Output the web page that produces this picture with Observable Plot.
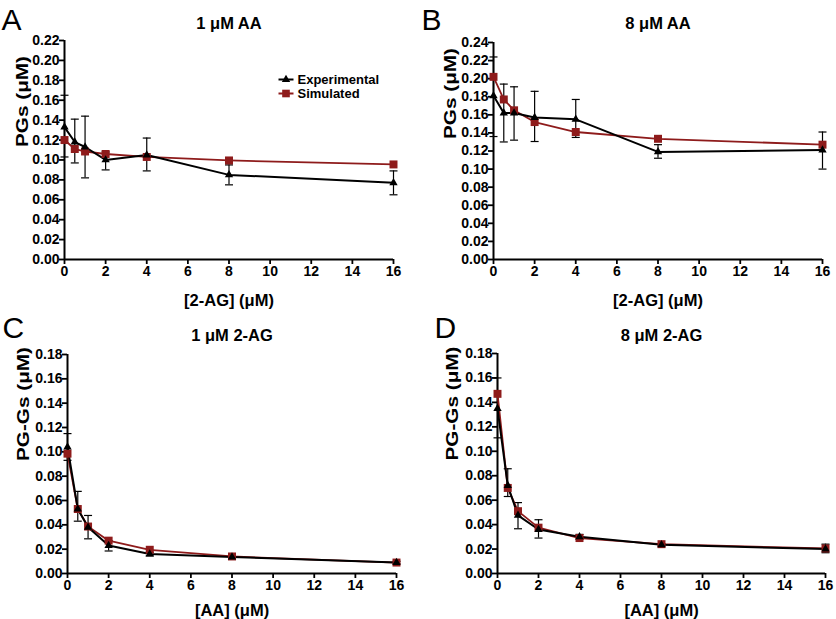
<!DOCTYPE html>
<html>
<head>
<meta charset="utf-8">
<script src="https://cdn.jsdelivr.net/npm/d3@7"></script>
<script src="https://cdn.jsdelivr.net/npm/@observablehq/plot@0.6"></script>
<style>
  html, body { margin: 0; padding: 0; background: #fff; }
  #wrap { position: relative; width: 836px; height: 619px; overflow: hidden; background: #fff; }
  #wrap svg { position: absolute; }
</style>
</head>
<body>
<div id="wrap"></div>
<script>
// ---- data ----
const conc = [0, 0.5, 1, 2, 4, 8, 16];
const xTicks = [0, 2, 4, 6, 8, 10, 12, 14, 16];
const yTicksA = [0, 0.02, 0.04, 0.06, 0.08, 0.10, 0.12, 0.14, 0.16, 0.18, 0.20, 0.22];
const yTicksB = [0, 0.02, 0.04, 0.06, 0.08, 0.10, 0.12, 0.14, 0.16, 0.18, 0.20, 0.22, 0.24];
const yTicksCD = [0, 0.02, 0.04, 0.06, 0.08, 0.10, 0.12, 0.14, 0.16, 0.18];
const seriesNames = ["Experimental", "Simulated"];

// Panel A: 1 µM AA, varying 2-AG
const expA = [0.133, 0.118, 0.113, 0.100, 0.105, 0.085, 0.077];
const expALo = [0.103, 0.097, 0.082, 0.090, 0.089, 0.075, 0.065];
const expAHi = [0.165, 0.141, 0.144, 0.108, 0.122, 0.095, 0.089];
const simA = [0.120, 0.111, 0.1085, 0.106, 0.103, 0.0995, 0.0955];

// Panel B: 8 µM AA, varying 2-AG
const expB = [0.181, 0.162, 0.162, 0.157, 0.155, 0.119, 0.121];
const expBLo = [0.136, 0.130, 0.132, 0.1305, 0.135, 0.112, 0.100];
const expBHi = [0.224, 0.194, 0.191, 0.186, 0.177, 0.127, 0.141];
const simB = [0.202, 0.177, 0.165, 0.152, 0.141, 0.1335, 0.127];

// Panel C: 1 µM 2-AG, varying AA
const expC = [0.104, 0.053, 0.038, 0.023, 0.016, 0.0135, 0.009];
const expCLo = [0.093, 0.043, 0.0285, 0.0185, 0.0145, 0.012, 0.008];
const expCHi = [0.115, 0.0675, 0.0477, 0.027, 0.0175, 0.015, 0.010];
const simC = [0.0985, 0.053, 0.0386, 0.027, 0.0195, 0.014, 0.009];

// Panel D: 8 µM 2-AG, varying AA
const expD = [0.135, 0.072, 0.0475, 0.036, 0.030, 0.0235, 0.020];
const expDLo = [0.111, 0.063, 0.0366, 0.029, 0.028, 0.0225, 0.017];
const expDHi = [0.160, 0.0857, 0.058, 0.044, 0.032, 0.0245, 0.024];
const simD = [0.147, 0.070, 0.051, 0.0375, 0.029, 0.024, 0.0205];

// ---- styling ----
const RED = "#8e1b1b";
const FONT = "'Liberation Sans', Arial, Helvetica, sans-serif";

const capSymbol = { draw(ctx) { ctx.moveTo(-4, 0); ctx.lineTo(4, 0); } };
const legendLine = { draw(ctx) { ctx.moveTo(-7.5, 0); ctx.lineTo(7.5, 0); } };

function panel(cfg) {
  const rows = conc.map((x, i) => ({x, exp: cfg.exp[i], lo: cfg.lo[i], hi: cfg.hi[i], sim: cfg.sim[i]}));
  const m = cfg.margin;
  const marks = [
    // error bars
    Plot.ruleX(rows, {x: "x", y1: "lo", y2: "hi", stroke: "black", strokeWidth: 1.2}),
    Plot.dot(rows, {x: "x", y: "hi", symbol: capSymbol, stroke: "black", strokeWidth: 1.2, fill: "none", r: 4}),
    Plot.dot(rows, {x: "x", y: "lo", symbol: capSymbol, stroke: "black", strokeWidth: 1.2, fill: "none", r: 4}),
    // axes
    Plot.axisX({ticks: xTicks, tickFormat: d => String(d), tickSize: 5, tickPadding: 2, strokeWidth: 1.8, label: null}),
    Plot.axisY({ticks: cfg.yTicks, tickFormat: d3.format(".2f"), tickSize: 5, tickPadding: 0, strokeWidth: 1.8, label: null}),
    Plot.ruleX([0], {stroke: "black", strokeWidth: 2}),
    Plot.ruleY([0], {stroke: "black", strokeWidth: 2}),
    // series
    Plot.line(rows, {x: "x", y: "sim", stroke: RED, strokeWidth: 1.8}),
    Plot.line(rows, {x: "x", y: "exp", stroke: "black", strokeWidth: 2}),
    Plot.dot(rows, {x: "x", y: "sim", symbol: "square", r: 4.5, fill: RED}),
    Plot.dot(rows, {x: "x", y: "exp", symbol: "triangle", r: 3.1, fill: "black"}),
    // texts
    Plot.text([cfg.title], {text: d => d, frameAnchor: "top", dy: cfg.titleDy, lineAnchor: "middle", fontSize: 16.5, fontWeight: "bold"}),
    Plot.text([cfg.letter], {text: d => d, frameAnchor: "top-left", dx: cfg.letterX - m.left, dy: cfg.letterBase - m.top, textAnchor: "start", lineAnchor: "bottom", fontSize: 30, fontWeight: "normal"}),
    Plot.text([cfg.yLabel], {text: d => d, frameAnchor: "left", dx: cfg.yLabelX - m.left, dy: cfg.yLabelDy || 0, rotate: -90, lineAnchor: "middle", fontSize: 17, fontWeight: "bold"}),
    Plot.text([cfg.xLabel], {text: d => d, frameAnchor: "bottom", dy: cfg.xLabelDy, lineAnchor: "middle", fontSize: 16.5, fontWeight: "bold"})
  ];
  if (cfg.legend) {
    const L = cfg.legend;
    marks.push(
      Plot.dot([0], {frameAnchor: "top-left", dx: L.x, dy: L.y, symbol: legendLine, stroke: "black", strokeWidth: 2, r: 1}),
      Plot.dot([0], {frameAnchor: "top-left", dx: L.x, dy: L.y, symbol: "triangle", r: 3.1, fill: "black"}),
      Plot.text([seriesNames[0]], {text: d => d, frameAnchor: "top-left", dx: L.x + 11.5, dy: L.y, textAnchor: "start", lineAnchor: "middle", fontSize: 13, fontWeight: "bold"}),
      Plot.dot([0], {frameAnchor: "top-left", dx: L.x, dy: L.y + 14, symbol: legendLine, stroke: RED, strokeWidth: 2, r: 1}),
      Plot.dot([0], {frameAnchor: "top-left", dx: L.x, dy: L.y + 14, symbol: "square", r: 4.3, fill: RED}),
      Plot.text([seriesNames[1]], {text: d => d, frameAnchor: "top-left", dx: L.x + 11.5, dy: L.y + 14, textAnchor: "start", lineAnchor: "middle", fontSize: 13, fontWeight: "bold"})
    );
  }
  const svg = Plot.plot({
    width: cfg.width,
    height: cfg.height,
    marginLeft: m.left, marginRight: m.right, marginTop: m.top, marginBottom: m.bottom,
    x: {domain: [0, 16]},
    y: {domain: [0, cfg.yMax]},
    style: {fontFamily: FONT, fontSize: "14px", fontWeight: "bold", color: "black", background: "transparent", overflow: "visible"},
    marks
  });
  // the original figure's rotated axis titles are drawn slightly stretched along their length
  svg.querySelectorAll("text").forEach(t => {
    if (t.textContent === cfg.yLabel) {
      const tr = t.getAttribute("transform");
      if (tr) t.setAttribute("transform", tr + " scale(1.22,1)");
    }
  });
  svg.style.left = cfg.left + "px";
  svg.style.top = cfg.top + "px";
  document.getElementById("wrap").appendChild(svg);
}

panel({letter: "A", title: "1 μM AA", xLabel: "[2-AG] (μM)", yLabel: "PGs (μM)",
  exp: expA, lo: expALo, hi: expAHi, sim: simA, yMax: 0.22, yTicks: yTicksA,
  left: 0, top: 0, width: 418, height: 312,
  margin: {left: 64, right: 25, top: 40, bottom: 53},
  titleDy: -17, letterX: 1, letterBase: 29, yLabelX: 22, yLabelDy: -3, xLabelDy: 41,
  legend: {x: 221.5, y: 39}});

panel({letter: "B", title: "8 μM AA", xLabel: "[2-AG] (μM)", yLabel: "PGs (μM)",
  exp: expB, lo: expBLo, hi: expBHi, sim: simB, yMax: 0.24, yTicks: yTicksB,
  left: 418, top: 0, width: 418, height: 312,
  margin: {left: 75, right: 14, top: 42, bottom: 53},
  titleDy: -19, letterX: 3, letterBase: 29, yLabelX: 32, yLabelDy: -12, xLabelDy: 41});

panel({letter: "C", title: "1 μM 2-AG", xLabel: "[AA] (μM)", yLabel: "PG-Gs (μM)",
  exp: expC, lo: expCLo, hi: expCHi, sim: simC, yMax: 0.18, yTicks: yTicksCD,
  left: 0, top: 312, width: 418, height: 307,
  margin: {left: 67, right: 22, top: 42, bottom: 46},
  titleDy: -19, letterX: 2, letterBase: 25, yLabelX: 23, yLabelDy: -3, xLabelDy: 37});

panel({letter: "D", title: "8 μM 2-AG", xLabel: "[AA] (μM)", yLabel: "PG-Gs (μM)",
  exp: expD, lo: expDLo, hi: expDHi, sim: simD, yMax: 0.18, yTicks: yTicksCD,
  left: 418, top: 312, width: 418, height: 307,
  margin: {left: 79, right: 11, top: 41, bottom: 46},
  titleDy: -18, letterX: 16, letterBase: 25, yLabelX: 34, yLabelDy: -3, xLabelDy: 37});
</script>
</body>
</html>
